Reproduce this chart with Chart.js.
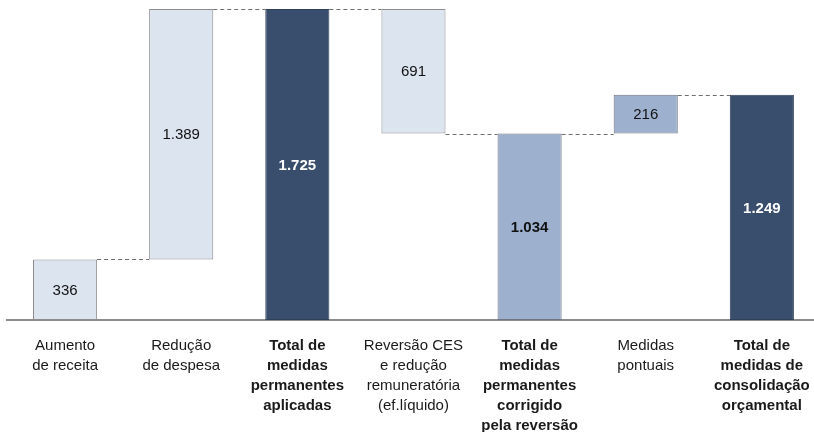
<!DOCTYPE html>
<html>
<head>
<meta charset="utf-8">
<script src="https://cdn.jsdelivr.net/npm/chart.js@4/dist/chart.umd.min.js"></script>
<style>
  html, body { margin: 0; padding: 0; background: #fff; overflow: hidden; }
  #waterfall { display: block; }
</style>
</head>
<body>
<canvas id="waterfall" width="826" height="432"></canvas>
<script>
// categorias (rótulos em várias linhas)
const CATEGORIES = [
  ['Aumento', 'de receita'],
  ['Redução', 'de despesa'],
  ['Total de', 'medidas', 'permanentes', 'aplicadas'],
  ['Reversão CES', 'e redução', 'remuneratória', '(ef.líquido)'],
  ['Total de', 'medidas', 'permanentes', 'corrigido', 'pela reversão'],
  ['Medidas', 'pontuais'],
  ['Total de', 'medidas de', 'consolidação', 'orçamental']
];

// variação de cada passo e se é um total
const VALUES   = [336, 1389, 1725, -691, 1034, 216, 1249];
const IS_TOTAL = [false, false, true, false, true, false, true];
const LABELS   = ['336', '1.389', '1.725', '691', '1.034', '216', '1.249'];

// cores por tipo de barra
const LIGHT = '#DCE4EF', MID = '#9DB1CF', DARK = '#384E6C';
const FILLS   = [LIGHT, LIGHT, DARK, LIGHT, MID, MID, DARK];
const BORDERS = ['#8C8C8C', '#8C8C8C', '#2E3F57', '#8C8C8C', '#6E7480', '#6E7480', '#2E3F57'];

// construir intervalos flutuantes
const ranges = [];
const levels = [];
let running = 0;
VALUES.forEach((v, i) => {
  if (IS_TOTAL[i]) {
    ranges.push([0, v]);
    running = v;
  } else {
    const next = running + v;
    ranges.push([Math.min(running, next), Math.max(running, next)]);
    running = next;
  }
  levels.push(running);
});

// linhas tracejadas entre barras + valores dentro das barras
const waterfallExtras = {
  id: 'waterfallExtras',
  afterDatasetsDraw(chart) {
    const { ctx, scales: { y } } = chart;
    const bars = chart.getDatasetMeta(0).data;
    ctx.save();
    ctx.strokeStyle = '#6E6E6E';
    ctx.lineWidth = 1;
    ctx.setLineDash([4, 3]);
    for (let i = 0; i < bars.length - 1; i++) {
      const yy = Math.round(y.getPixelForValue(levels[i])) + 0.5;
      ctx.beginPath();
      ctx.moveTo(bars[i].x + bars[i].width / 2, yy);
      ctx.lineTo(bars[i + 1].x - bars[i + 1].width / 2, yy);
      ctx.stroke();
    }
    ctx.setLineDash([]);
    ctx.textAlign = 'center';
    ctx.textBaseline = 'middle';
    bars.forEach((b, i) => {
      const top = y.getPixelForValue(ranges[i][1]);
      const bot = y.getPixelForValue(ranges[i][0]);
      ctx.font = (IS_TOTAL[i] ? 'bold ' : '') + '15px "Liberation Sans", Arial, sans-serif';
      ctx.fillStyle = FILLS[i] === DARK ? '#FFFFFF' : '#111111';
      ctx.fillText(LABELS[i], b.x, (top + bot) / 2 + 1);
    });
    ctx.restore();
  }
};

new Chart(document.getElementById('waterfall'), {
  type: 'bar',
  data: {
    labels: CATEGORIES,
    datasets: [{
      data: ranges,
      backgroundColor: FILLS,
      borderColor: BORDERS,
      borderWidth: 1,
      borderSkipped: false,
      barPercentage: 1,
      categoryPercentage: 0.552
    }]
  },
  options: {
    responsive: false,
    animation: false,
    layout: { padding: { left: 7, right: 3, top: 9, bottom: 0 } },
    plugins: { legend: { display: false }, tooltip: { enabled: false } },
    scales: {
      x: {
        grid: { display: false, drawTicks: false },
        border: { display: true, color: '#8C8C8C', width: 2 },
        afterFit: scale => { scale.height = 112; },
        ticks: {
          autoSkip: false,
          maxRotation: 0,
          padding: 16,
          color: '#1A1A1A',
          font: c => ({
            family: '"Liberation Sans", Arial, sans-serif',
            size: 15,
            lineHeight: 1.33,
            weight: IS_TOTAL[c.index] ? 'bold' : 'normal'
          })
        }
      },
      y: { display: false, min: 0, max: 1725 }
    }
  },
  plugins: [waterfallExtras]
});
</script>
</body>
</html>
